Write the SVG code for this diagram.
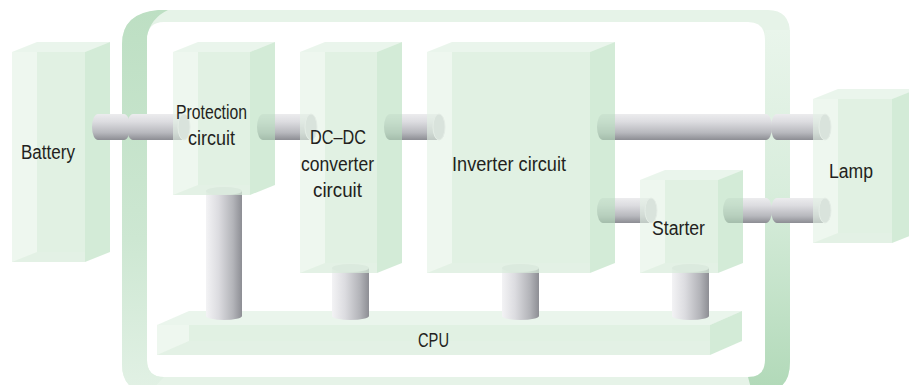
<svg xmlns="http://www.w3.org/2000/svg" width="909" height="385" viewBox="0 0 909 385">
<defs>
<linearGradient id="gPipeH" x1="0" y1="0" x2="0" y2="1">
<stop offset="0" stop-color="#ececee"/><stop offset="0.3" stop-color="#dcdce0"/><stop offset="0.72" stop-color="#b7b8bd"/><stop offset="1" stop-color="#8c8d93"/>
</linearGradient>
<linearGradient id="gPipeV" x1="0" y1="0" x2="1" y2="0">
<stop offset="0" stop-color="#f3f3f5"/><stop offset="0.35" stop-color="#dcdce0"/><stop offset="0.75" stop-color="#b3b4b9"/><stop offset="1" stop-color="#8d8e94"/>
</linearGradient>
<linearGradient id="gFL" gradientUnits="userSpaceOnUse" x1="0" y1="10" x2="0" y2="392">
<stop offset="0" stop-color="#bddfc3"/><stop offset="0.6" stop-color="#cde7d2"/><stop offset="1" stop-color="#e2f1e5"/>
</linearGradient>
<linearGradient id="gFR" gradientUnits="userSpaceOnUse" x1="0" y1="30" x2="0" y2="390">
<stop offset="0" stop-color="#e9f5eb"/><stop offset="0.45" stop-color="#d8eddc"/><stop offset="1" stop-color="#b1d9b8"/>
</linearGradient>
<style>
.f{fill:#e3f2e4;fill-opacity:.6}
.o{fill:#c9e6ce;fill-opacity:.35}
.t{fill:#dceedf;fill-opacity:.6}
.s{fill:#b6debc;fill-opacity:.6}
.b{fill:#c9e6ce;fill-opacity:.3}
.ph{fill:url(#gPipeH)}
.pv{fill:url(#gPipeV)}
.cap{fill:#cbccd0;stroke:#e6e6e8;stroke-width:1}
.vcap{fill:#e3e3e6}
text{font-family:"Liberation Sans Narrow","Liberation Sans",Arial,sans-serif;font-size:20px;fill:#231f20;text-anchor:middle}
</style>
</defs>
<rect width="909" height="385" fill="#ffffff"/>

<g id="board">
<path fill="#e6f3e8" fill-rule="evenodd" d="M162,10 H768 Q790,10 790,34 V362 Q790,392 762,392 H150 Q122,392 122,364 V44 Q122,12 162,10 Z M164,22 H748 Q765,22 765,40 V360 Q765,377 748,377 H164 Q147,377 147,360 V40 Q147,22 164,22 Z"/>
<path fill="url(#gFL)" d="M122,44 Q122,13 158,10 L168,10 Q151,18 147,36 V360 Q147,377 164,377 L150,392 Q122,392 122,364 Z"/>
<path fill="url(#gFR)" d="M765,30 V360 Q765,377 748,377 L752,392 H762 Q790,392 790,362 V30 Z"/>
</g>

<g id="cpu">
<rect class="f" x="157" y="325" width="553" height="30"/>
<rect class="o" x="189" y="325" width="521" height="16"/>
<polygon class="t" points="157,325 189,311 742,311 710,325"/>
<polygon class="s" points="710,325 742,311 742,341 710,355"/>
<polygon class="b" points="157,355 189,341 710,341 710,355"/>
<text x="433.5" y="347" textLength="31" lengthAdjust="spacingAndGlyphs">CPU</text>
</g>

<g id="battery">
<rect class="f" x="12" y="52" width="73" height="210"/>
<rect class="o" x="37" y="52" width="48" height="200"/>
<polygon class="t" points="12,52 37,42 110,42 85,52"/>
<polygon class="s" points="85,52 110,42 110,252 85,262"/>
<polygon class="b" points="12,262 37,252 85,252 85,262"/>
<text x="48" y="159" textLength="54" lengthAdjust="spacingAndGlyphs">Battery</text>
</g>

<g id="connectors">
<path class="pv" d="M206,191 V316 A18,4 0 0 0 242,316 V191 Z"/>
<ellipse class="vcap" cx="224" cy="191" rx="18" ry="4"/>
<path class="pv" d="M332,268 V316 A18.5,4 0 0 0 369,316 V268 Z"/>
<ellipse class="vcap" cx="350.5" cy="268" rx="18.5" ry="4"/>
<path class="pv" d="M502,268 V316 A18.5,4 0 0 0 539,316 V268 Z"/>
<ellipse class="vcap" cx="520.5" cy="268" rx="18.5" ry="4"/>
<path class="pv" d="M672,268 V316 A18.5,4 0 0 0 709,316 V268 Z"/>
<ellipse class="vcap" cx="690.5" cy="268" rx="18.5" ry="4"/>

<path class="ph" d="M98,114 H124 A6,13 0 0 1 124,140 H98 A6,13 0 0 1 98,114 Z"/>
<path class="ph" d="M133,114 H184 A6,13 0 0 1 184,140 H133 A6,13 0 0 1 133,114 Z"/>
<ellipse class="cap" cx="184" cy="127" rx="6" ry="13"/>
<path class="ph" d="M263,114 H311 A6,13 0 0 1 311,140 H263 A6,13 0 0 1 263,114 Z"/>
<ellipse class="cap" cx="311" cy="127" rx="6" ry="13"/>
<path class="ph" d="M390,114 H439 A6,13 0 0 1 439,140 H390 A6,13 0 0 1 390,114 Z"/>
<ellipse class="cap" cx="439" cy="127" rx="6" ry="13"/>
<path class="ph" d="M603,114 H766 A6,13 0 0 1 766,140 H603 A6,13 0 0 1 603,114 Z"/>
<path class="ph" d="M777,114 H825 A6,13 0 0 1 825,140 H777 A6,13 0 0 1 777,114 Z"/>
<ellipse class="cap" cx="825" cy="127" rx="6" ry="13"/>
<path class="ph" d="M603,198 H651 A6,12.5 0 0 1 651,223 H603 A6,12.5 0 0 1 603,198 Z"/>
<ellipse class="cap" cx="651" cy="210.5" rx="6" ry="12.5"/>
<path class="ph" d="M729,198 H766 A6,12.5 0 0 1 766,223 H729 A6,12.5 0 0 1 729,198 Z"/>
<path class="ph" d="M777,198 H825 A6,12.5 0 0 1 825,223 H777 A6,12.5 0 0 1 777,198 Z"/>
<ellipse class="cap" cx="825" cy="210.5" rx="6" ry="12.5"/>
</g>

<g id="protection">
<rect class="f" x="173" y="52" width="77" height="143"/>
<rect class="o" x="198" y="52" width="52" height="133"/>
<polygon class="t" points="173,52 198,42 275,42 250,52"/>
<polygon class="s" points="250,52 275,42 275,185 250,195"/>
<polygon class="b" points="173,195 198,185 250,185 250,195"/>
<text x="211.5" y="119" textLength="71" lengthAdjust="spacingAndGlyphs">Protection</text>
<text x="211.5" y="145" textLength="47" lengthAdjust="spacingAndGlyphs">circuit</text>
</g>

<g id="dcdc">
<rect class="f" x="300" y="52" width="77" height="221"/>
<rect class="o" x="325" y="52" width="52" height="211"/>
<polygon class="t" points="300,52 325,42 402,42 377,52"/>
<polygon class="s" points="377,52 402,42 402,263 377,273"/>
<polygon class="b" points="300,273 325,263 377,263 377,273"/>
<text x="338" y="144" textLength="56" lengthAdjust="spacingAndGlyphs">DC–DC</text>
<text x="337.5" y="171" textLength="73" lengthAdjust="spacingAndGlyphs">converter</text>
<text x="337.5" y="197" textLength="49" lengthAdjust="spacingAndGlyphs">circuit</text>
</g>

<g id="inverter">
<rect class="f" x="427" y="52" width="163" height="221"/>
<rect class="o" x="452" y="52" width="138" height="211"/>
<polygon class="t" points="427,52 452,42 615,42 590,52"/>
<polygon class="s" points="590,52 615,42 615,263 590,273"/>
<polygon class="b" points="427,273 452,263 590,263 590,273"/>
<text x="509" y="171" textLength="114" lengthAdjust="spacingAndGlyphs">Inverter circuit</text>
</g>

<g id="starter">
<rect class="f" x="640" y="180" width="78" height="93"/>
<rect class="o" x="665" y="180" width="53" height="83"/>
<polygon class="t" points="640,180 665,170 743,170 718,180"/>
<polygon class="s" points="718,180 743,170 743,263 718,273"/>
<polygon class="b" points="640,273 665,263 718,263 718,273"/>
<text x="678.5" y="235" textLength="53" lengthAdjust="spacingAndGlyphs">Starter</text>
</g>

<g id="lamp">
<rect class="f" x="813" y="99" width="79" height="144"/>
<rect class="o" x="838" y="99" width="54" height="134"/>
<polygon class="t" points="813,99 838,89 917,89 892,99"/>
<polygon class="s" points="892,99 917,89 917,233 892,243"/>
<polygon class="b" points="813,243 838,233 892,233 892,243"/>
<text x="851" y="178" textLength="44" lengthAdjust="spacingAndGlyphs">Lamp</text>
</g>
</svg>
